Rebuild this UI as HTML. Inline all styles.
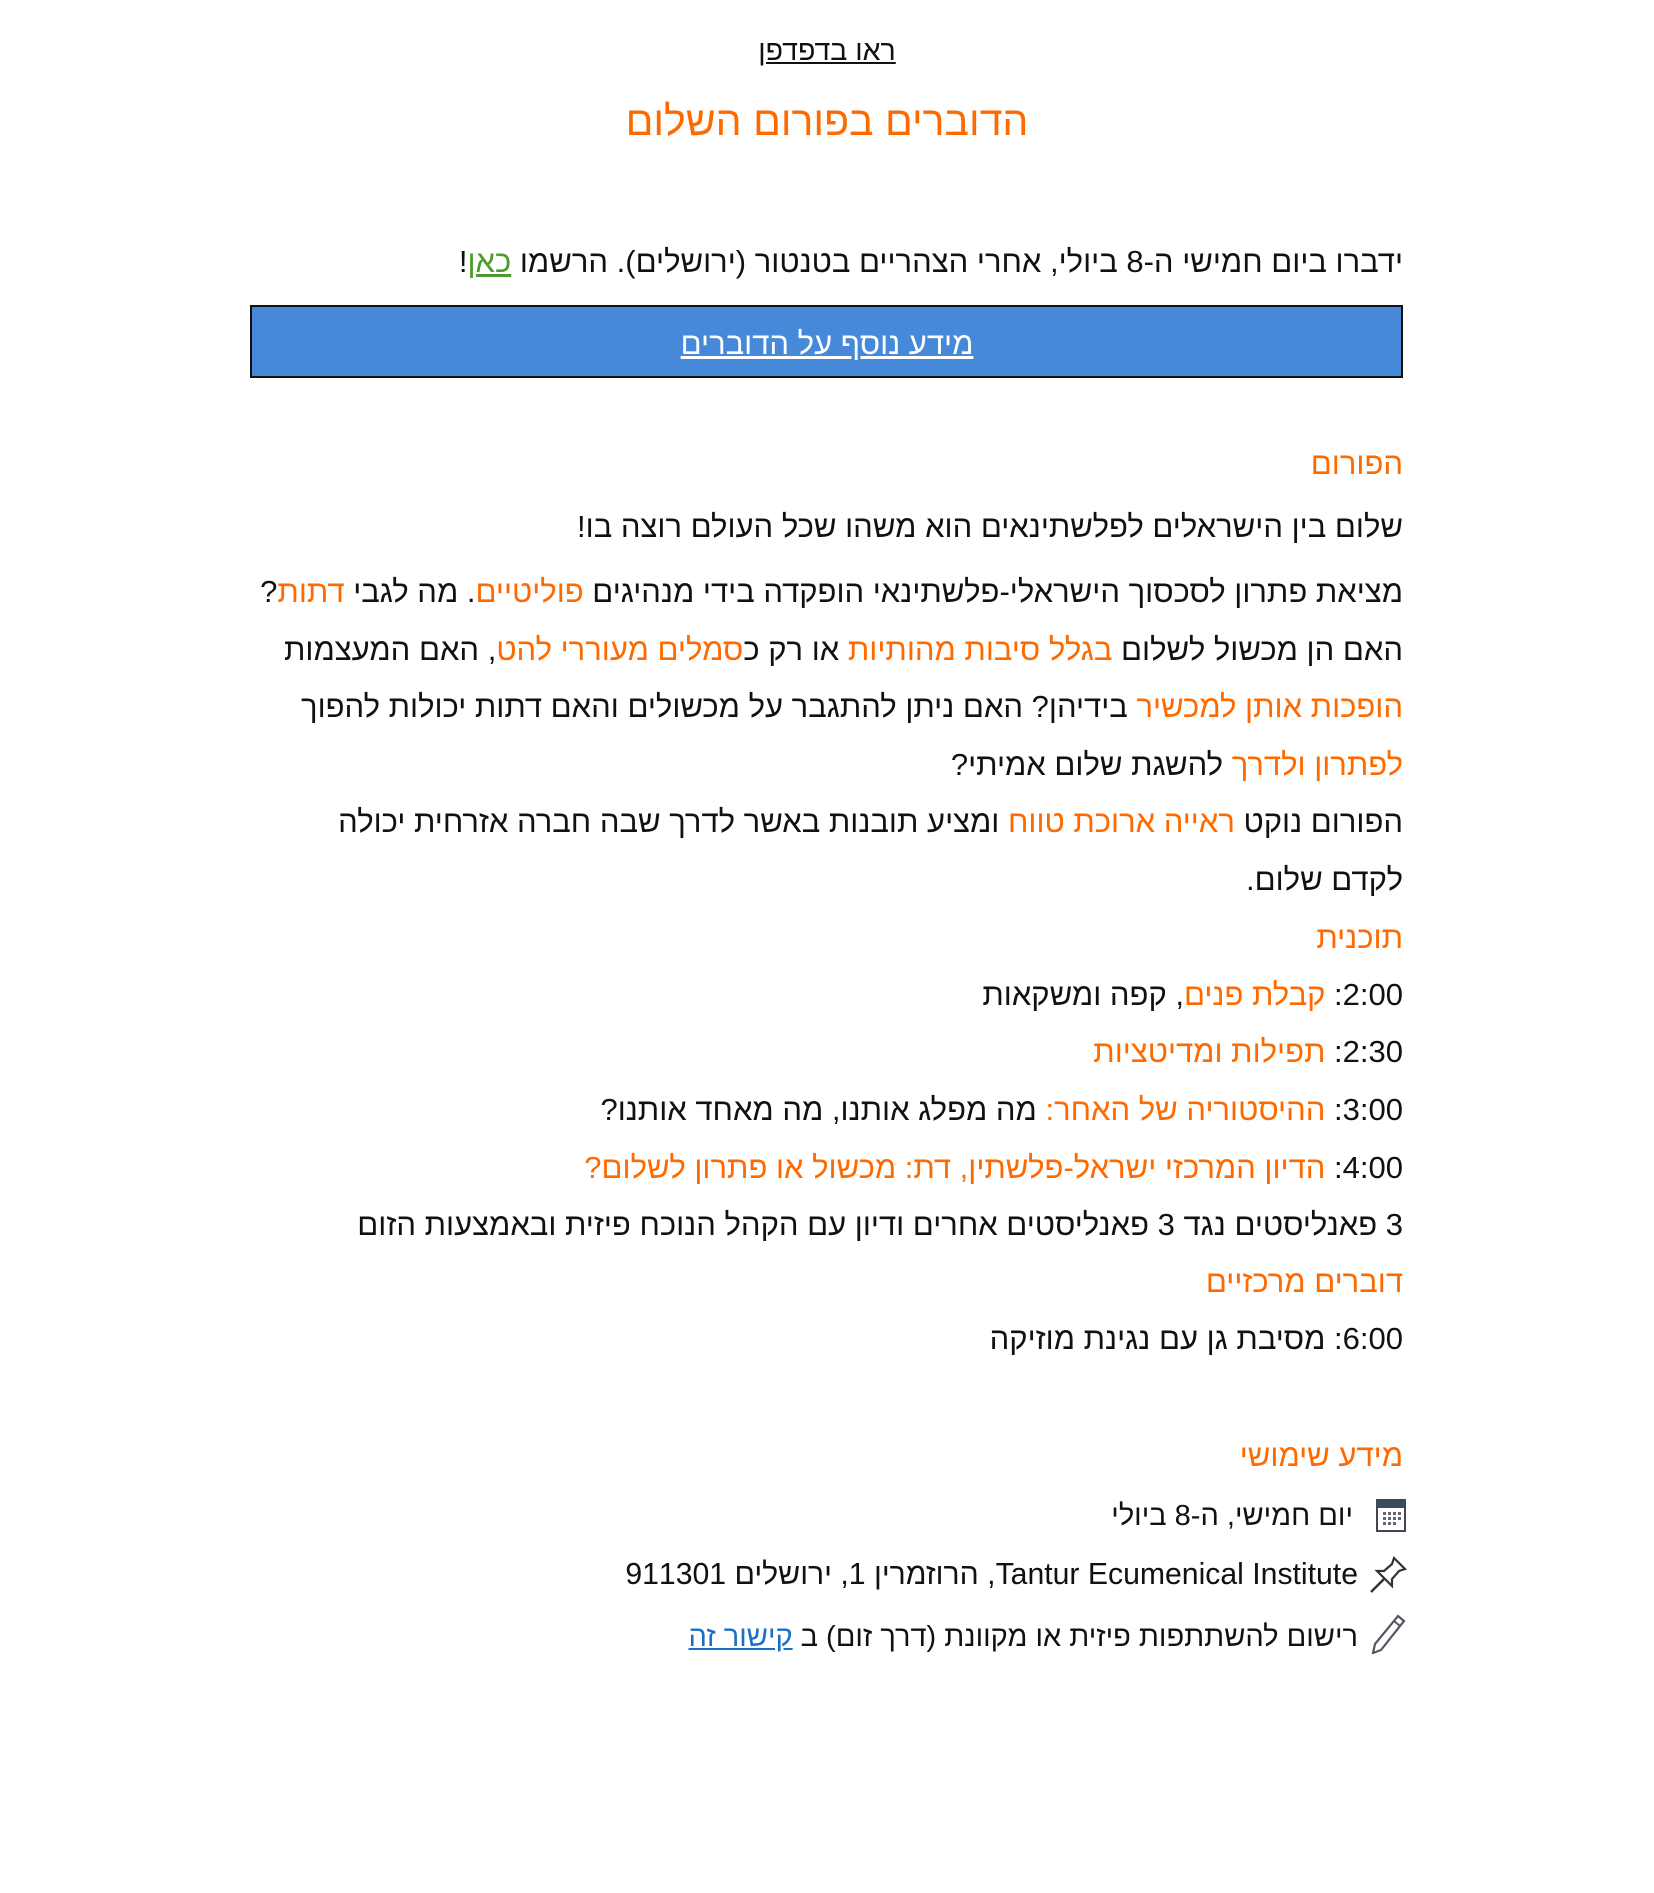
<!DOCTYPE html>
<html><head><meta charset="utf-8"><style>
body{margin:0;width:1654px;height:1893px;background:#fff;position:relative;font-family:"Liberation Sans",Arial,sans-serif;color:#111;overflow:hidden}
.l{position:absolute;right:251px;direction:rtl;white-space:nowrap;font-size:31px;line-height:36px;height:36px}
.c{position:absolute;left:0;width:1654px;text-align:center;direction:rtl;white-space:nowrap}
.o{color:#ff6a00}
a{color:inherit;text-decoration:underline}
.s{font-size:29px}
</style></head><body>
<div class="c" style="top:34px;font-size:28.5px;line-height:34px;"><a style="color:#111">ראו בדפדפן</a></div>
<div class="c o" style="top:97px;font-size:41px;line-height:48px;">הדוברים בפורום השלום</div>
<div class="l" style="top:244px">ידברו ביום חמישי ה-8 ביולי, אחרי הצהריים בטנטור (ירושלים). הרשמו <a style="color:#4e9a2a">כאן</a>!</div>
<div style="position:absolute;left:250px;top:305px;width:1153px;height:73px;background:#4589d8;border:2px solid #111;box-sizing:border-box;"></div>
<div class="c" style="top:326px;font-size:31px;line-height:36px;color:#fff"><a style="color:#fff">מידע נוסף על הדוברים</a></div>
<div class="l o" style="top:446px">הפורום</div>
<div class="l" style="top:509px">שלום בין הישראלים לפלשתינאים הוא משהו שכל העולם רוצה בו!</div>
<div class="l" style="top:574px">מציאת פתרון לסכסוך הישראלי-פלשתינאי הופקדה בידי מנהיגים <span class="o">פוליטיים</span>. מה לגבי <span class="o">דתות</span>?</div>
<div class="l" style="top:632px">האם הן מכשול לשלום <span class="o">בגלל סיבות מהותיות</span> או רק כ<span class="o">סמלים מעוררי להט</span>, האם המעצמות</div>
<div class="l" style="top:689px"><span class="o">הופכות אותן למכשיר</span> בידיהן? האם ניתן להתגבר על מכשולים והאם דתות יכולות להפוך</div>
<div class="l" style="top:747px"><span class="o">לפתרון ולדרך</span> להשגת שלום אמיתי?</div>
<div class="l" style="top:804px">הפורום נוקט <span class="o">ראייה ארוכת טווח</span> ומציע תובנות באשר לדרך שבה חברה אזרחית יכולה</div>
<div class="l" style="top:862px">לקדם שלום.</div>
<div class="l o" style="top:920px">תוכנית</div>
<div class="l" style="top:977px">2:00: <span class="o">קבלת פנים</span>, קפה ומשקאות</div>
<div class="l" style="top:1034px">2:30: <span class="o">תפילות ומדיטציות</span></div>
<div class="l" style="top:1092px">3:00: <span class="o">ההיסטוריה של האחר:</span> מה מפלג אותנו, מה מאחד אותנו?</div>
<div class="l" style="top:1150px">4:00: <span class="o">הדיון המרכזי ישראל-פלשתין, דת: מכשול או פתרון לשלום?</span></div>
<div class="l" style="top:1207px">3 פאנליסטים נגד 3 פאנליסטים אחרים ודיון עם הקהל הנוכח פיזית ובאמצעות הזום</div>
<div class="l o" style="top:1264px">דוברים מרכזיים</div>
<div class="l" style="top:1321px">6:00: מסיבת גן עם נגינת מוזיקה</div>
<div class="l o" style="top:1438px">מידע שימושי</div>
<svg style="position:absolute;left:1376px;top:1499px" width="30" height="34" viewBox="0 0 30 34"><rect x="1" y="1" width="28" height="31" fill="#fff" stroke="#445" stroke-width="2"/><rect x="1" y="1" width="28" height="8" fill="#3d4a5c"/><g fill="#667">
<rect x="7" y="13" width="3" height="3"/><rect x="12" y="13" width="3" height="3"/><rect x="17" y="13" width="3" height="3"/><rect x="22" y="13" width="3" height="3"/>
<rect x="7" y="18" width="3" height="3"/><rect x="12" y="18" width="3" height="3"/><rect x="17" y="18" width="3" height="3"/><rect x="22" y="18" width="3" height="3"/>
<rect x="7" y="23" width="3" height="3"/><rect x="12" y="23" width="3" height="3"/><rect x="17" y="23" width="3" height="3"/></g></svg>
<div class="l s" style="top:1498px;right:301px">יום חמישי, ה-8 ביולי</div>
<svg style="position:absolute;left:1368px;top:1555px" width="40" height="40" viewBox="0 0 40 40"><path d="M26 3 L37 14 L31 16 L24 24 L24 31 L9 16 L16 16 L24 9 Z" fill="none" stroke="#333" stroke-width="2.2"/><path d="M16 24 L3 37" stroke="#333" stroke-width="2.5"/></svg>
<div class="l s" style="top:1557px;right:296px;font-size:30.2px">Tantur Ecumenical Institute, הרוזמרין 1, ירושלים 911301</div>
<svg style="position:absolute;left:1370px;top:1614px" width="36" height="40" viewBox="0 0 36 40"><path d="M28 2 L34 7 L11 36 L3 39 L5 30 Z" fill="none" stroke="#556" stroke-width="2.2"/><path d="M24 7 L30 12" stroke="#556" stroke-width="2"/></svg>
<div class="l s" style="top:1619px;right:296px">רישום להשתתפות פיזית או מקוונת (דרך זום) ב <a style="color:#1a6fc9">קישור זה</a></div>
</body></html>
